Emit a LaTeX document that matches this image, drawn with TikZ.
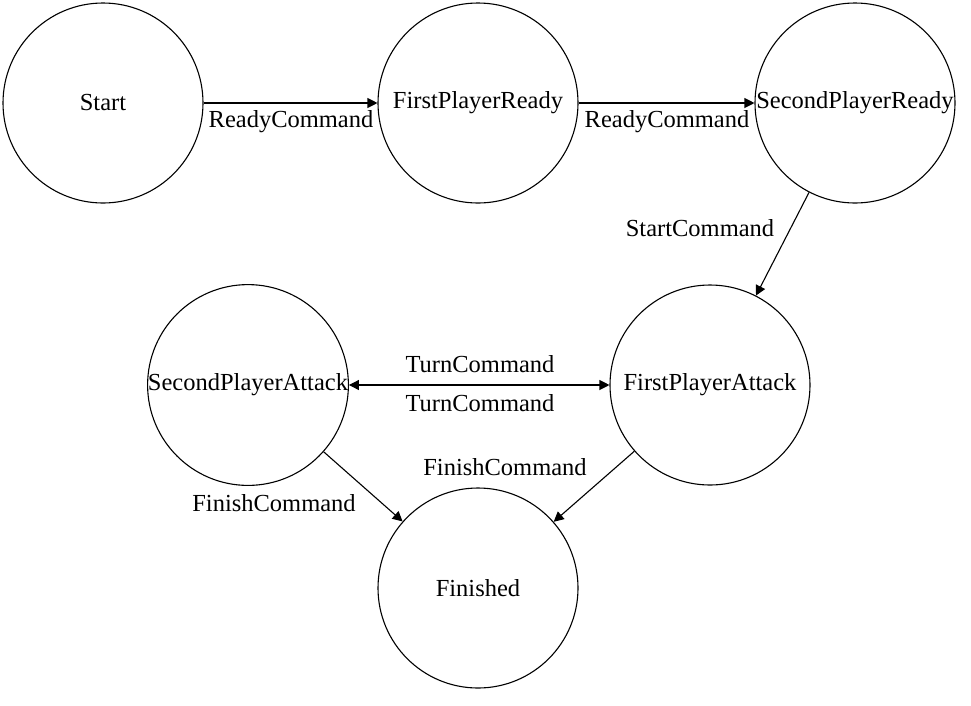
\documentclass[tikz,border=0pt]{standalone}
\usepackage{fontspec}
\setmainfont{Liberation Serif}
\usetikzlibrary{arrows.meta}
\begin{document}
\begin{tikzpicture}[x=1pt,y=-1pt,
  state/.style={circle,draw,line width=1.1pt,minimum size=200pt,inner sep=0pt,font=\fontsize{24.5}{28}\selectfont},
  lbl/.style={inner sep=0pt,font=\fontsize{24.5}{28}\selectfont},
  conn/.style={line width=1.1pt,-{Triangle[length=10pt,width=10pt]}},
  conn2/.style={line width=1.1pt,{Triangle[length=10pt,width=10pt]}-{Triangle[length=10pt,width=10pt]}}]
\useasboundingbox (0,0) rectangle (971,705);
\node[state] (start) at (103,103) {Start};
\node[state] (fpr) at (478,103) {FirstPlayerReady};
\node[state] (spr) at (855,103) {SecondPlayerReady};
\node[state] (fpa) at (710,385) {FirstPlayerAttack};
\node[state] (spa) at (248,385) {SecondPlayerAttack};
\node[state] (fin) at (478,588) {Finished};
\draw[conn] (start) -- (fpr);
\draw[conn] (fpr) -- (spr);
\draw[conn] (spr) -- (fpa);
\draw[conn2] (spa.east) -- (fpa.west);
\draw[conn] (spa) -- (fin);
\draw[conn] (fpa) -- (fin);
\node[lbl] (l1) at (291,122) {ReadyCommand};
\node[lbl] (l2) at (667,122) {ReadyCommand};
\node[lbl] (l3) at (700,228) {StartCommand};
\node[lbl] (l4) at (480,364) {TurnCommand};
\node[lbl] (l5) at (480,403) {TurnCommand};
\node[lbl] (l6) at (505,467) {FinishCommand};
\node[lbl] (l7) at (274,503) {FinishCommand};
\end{tikzpicture}
\end{document}
